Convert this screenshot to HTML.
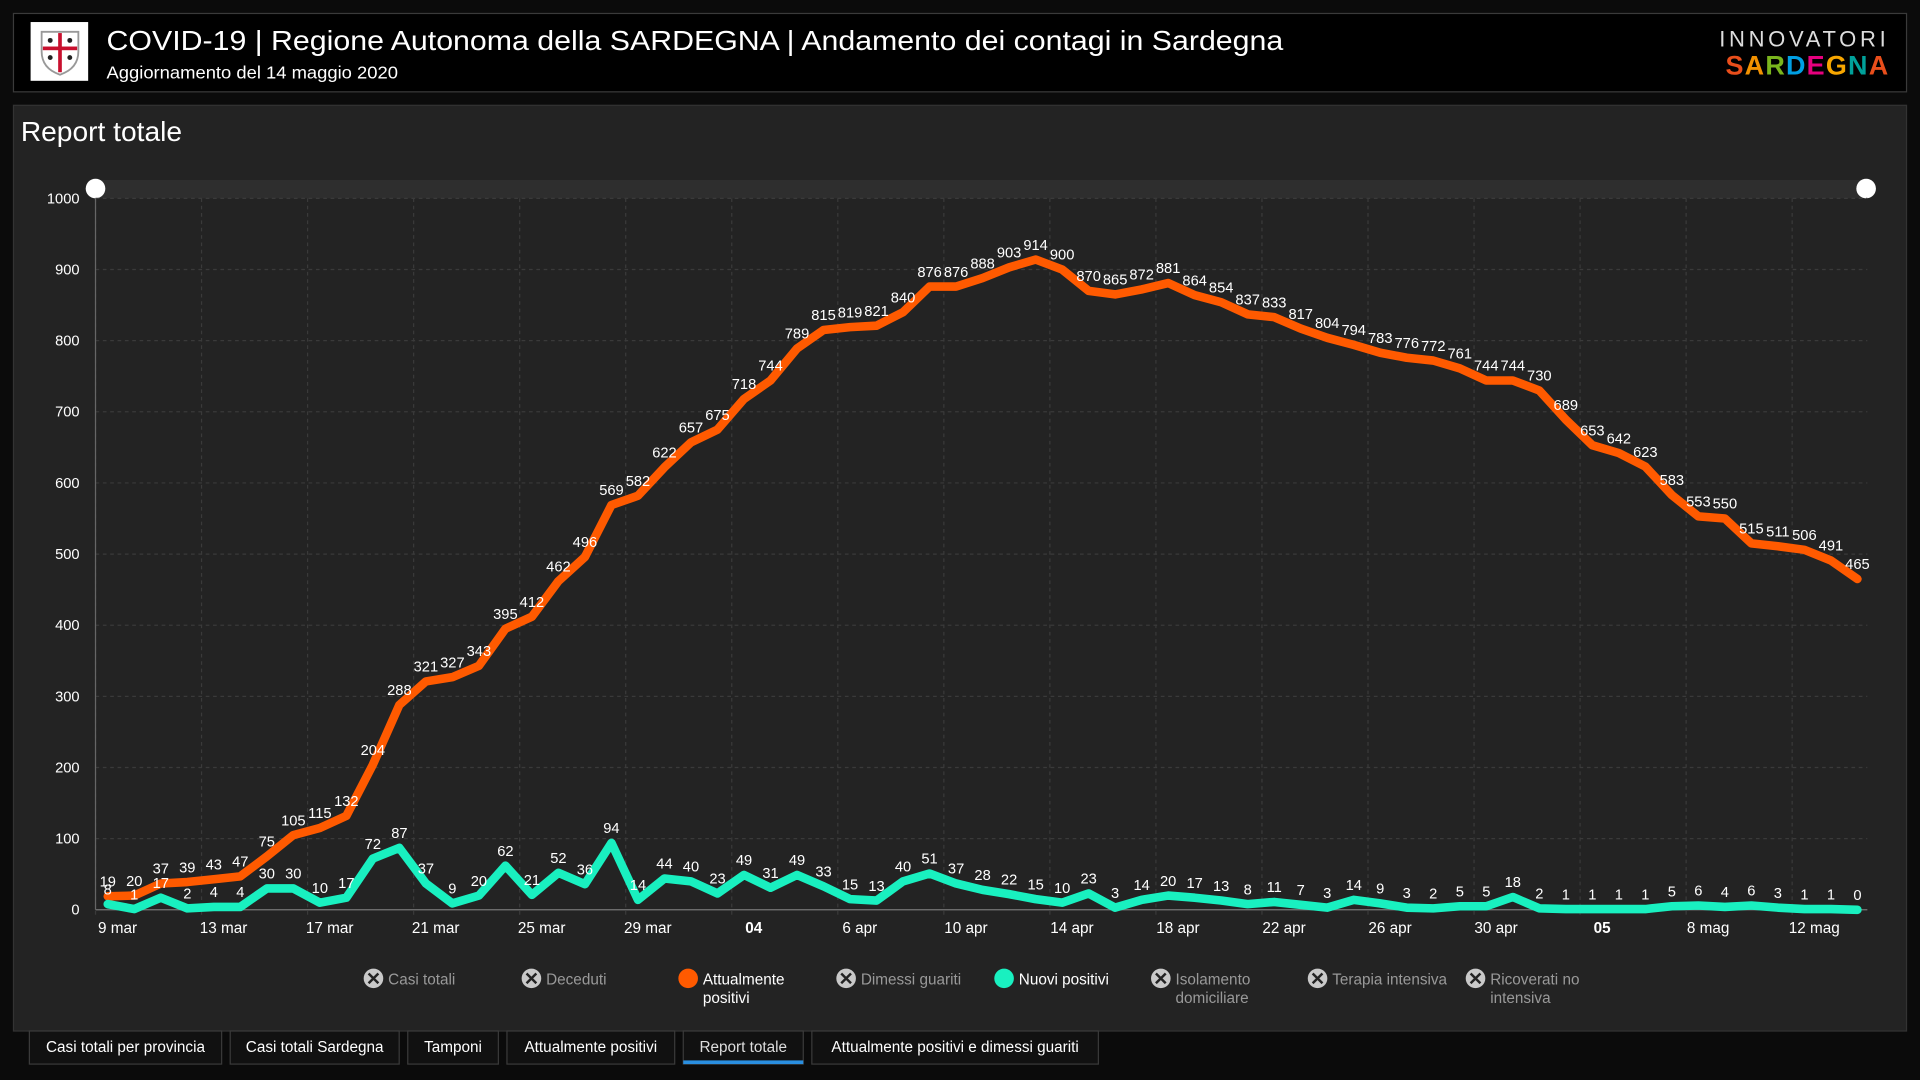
<!DOCTYPE html>
<html><head><meta charset="utf-8">
<style>
html,body{margin:0;padding:0;background:#0b0b0b;width:1920px;height:1080px;overflow:hidden}
svg{display:block;font-family:"Liberation Sans",sans-serif}
</style></head>
<body>
<svg id="root" width="1920" height="1080" viewBox="0 0 1568 882" xmlns="http://www.w3.org/2000/svg">
  <rect x="0" y="0" width="1568" height="882" fill="#0b0b0b"/>
  <g>
    <rect x="11" y="11" width="1546" height="64" fill="#000" stroke="#3a3a3a"/>
    <g>
      <rect x="25" y="18" width="47" height="48" fill="#fff"/>
      <path d="M34 26 h30 v16 q0 14 -15 19 q-15 -5 -15 -19z" fill="#fff" stroke="#999" stroke-width="1.5"/>
      <rect x="47.5" y="27" width="3" height="32" fill="#c8102e"/>
      <rect x="35" y="38" width="28" height="3" fill="#c8102e"/>
      <circle cx="41" cy="33" r="2" fill="#222"/><circle cx="57" cy="33" r="2" fill="#222"/>
      <circle cx="41" cy="47" r="2" fill="#222"/><circle cx="57" cy="47" r="2" fill="#222"/>
    </g>
    <text x="87" y="41" fill="#fff" font-size="23" textLength="961" lengthAdjust="spacingAndGlyphs">COVID-19 | Regione Autonoma della SARDEGNA | Andamento dei contagi in Sardegna</text>
    <text x="87" y="64" fill="#fff" font-size="14" textLength="238" lengthAdjust="spacingAndGlyphs">Aggiornamento del 14 maggio 2020</text>
    <text x="1543" y="38" fill="#ddd" font-size="18" text-anchor="end" letter-spacing="3">INNOVATORI</text>
    <text x="1543" y="61" font-size="22" font-weight="bold" text-anchor="end" letter-spacing="1"><tspan fill="#e94e1b">S</tspan><tspan fill="#f29100">A</tspan><tspan fill="#7ab51d">R</tspan><tspan fill="#009fe3">D</tspan><tspan fill="#e6007e">E</tspan><tspan fill="#f7a600">G</tspan><tspan fill="#00a19a">N</tspan><tspan fill="#e94e1b">A</tspan></text>
  </g>
  <g>
    <rect x="11" y="86" width="1546" height="756" fill="#232323" stroke="#333"/>
    <text x="17" y="115" fill="#fff" font-size="23">Report totale</text>
    <rect x="78" y="147" width="1447" height="15" fill="#2e2e2e"/>
    <circle cx="78" cy="154" r="8" fill="#fff"/>
    <circle cx="1524" cy="154" r="8" fill="#fff"/>
    <g id="grid"></g>
    <g id="axes"></g>
    <g id="series"></g>
    <g id="labels"></g>
  </g>
  <g id="legend"></g>
  <g id="tabs"></g>
</svg>
<script>
const days = 67;
const tickLabels = ["9 mar","13 mar","17 mar","21 mar","25 mar","29 mar","04","6 apr","10 apr","14 apr","18 apr","22 apr","26 apr","30 apr","05","8 mag","12 mag"];
const yTicks = [0,100,200,300,400,500,600,700,800,900,1000];
const attualmentePositivi = [19,20,37,39,43,47,75,105,115,132,204,288,321,327,343,395,412,462,496,569,582,622,657,675,718,744,789,815,819,821,840,876,876,888,903,914,900,870,865,872,881,864,854,837,833,817,804,794,783,776,772,761,744,744,730,689,653,642,623,583,553,550,515,511,506,491,465];
const nuoviPositivi = [8,1,17,2,4,4,30,30,10,17,72,87,37,9,20,62,21,52,36,94,14,44,40,23,49,31,49,33,15,13,40,51,37,28,22,15,10,23,3,14,20,17,13,8,11,7,3,14,9,3,2,5,5,18,2,1,1,1,1,5,6,4,6,3,1,1,0];

const NS="http://www.w3.org/2000/svg";
const X0=88, DX=21.65, Y0=743, Y1=162;
function xs(i){return X0+DX*i;}
function ys(v){return Y0-(Y0-Y1)*v/1000;}
function mk(tag,attrs,parent,txt){const e=document.createElementNS(NS,tag);for(const k in attrs)e.setAttribute(k,attrs[k]);if(txt!==undefined)e.textContent=txt;parent.appendChild(e);return e;}

const grid=document.getElementById('grid'), axes=document.getElementById('axes');
yTicks.forEach(v=>{
  const l=mk('line',{x1:78,x2:1525,y1:ys(v),y2:ys(v),stroke:v===0?'#777':'#3a3a3a','stroke-dasharray':v===0?'':'3,3'},grid);
  
  
  const t=mk('text',{x:65,y:ys(v)+4,fill:'#fff','font-size':12,'text-anchor':'end'},axes,String(v));
  
  
});
mk('line',{x1:78,x2:78,y1:162,y2:743,stroke:'#666'},axes);
tickLabels.forEach((lab,i)=>{
  const gx=xs(i*4)-10;
  const l=mk('line',{x1:gx,x2:gx,y1:162,y2:748,stroke:'#3a3a3a','stroke-dasharray':'3,3'},grid);
  
  
  const bold=(lab.length===2);
  const t=mk('text',{x:xs(i*4)+8,y:762,fill:'#fff','font-size':12.5,'text-anchor':'middle','font-weight':bold?'bold':'normal'},axes,lab);
  
  
});

const series=document.getElementById('series'), labels=document.getElementById('labels');
function drawSeries(data,color,name){
  const pts=data.map((v,i)=>xs(i)+','+ys(v)).join(' ');
  const p=mk('polyline',{points:pts,fill:'none',stroke:color,'stroke-width':7,'stroke-linejoin':'round','stroke-linecap':'round'},series);
  
  
  data.forEach((v,i)=>{
    const t=mk('text',{x:xs(i),y:ys(v)-8,fill:'#fff','font-size':12,'text-anchor':'middle'},labels,String(v));
    
    
  });
}
drawSeries(attualmentePositivi,'#ff5a00','attualmente-positivi');
drawSeries(nuoviPositivi,'#19f0c0','nuovi-positivi');

const legend=document.getElementById('legend');
const legendItems=[["Casi totali",305,null],["Deceduti",434,null],["Attualmente|positivi",562,'#ff5a00'],["Dimessi guariti",691,null],["Nuovi positivi",820,'#19f0c0'],["Isolamento|domiciliare",948,null],["Terapia intensiva",1076,null],["Ricoverati no|intensiva",1205,null]];
legendItems.forEach(it=>{
  const g=mk('g',{},legend);
  
  
  mk('circle',{cx:it[1],cy:799,r:8,fill:it[2]||'#c9c9c9'},g);
  if(!it[2]){mk('path',{d:`M${it[1]-4} 795 l8 8 M${it[1]+4} 795 l-8 8`,stroke:'#232323','stroke-width':2},g);}
  const lines=it[0].split('|');
  lines.forEach((s,j)=>mk('text',{x:it[1]+12,y:804+j*15,fill:it[2]?'#fff':'#999','font-size':12.5},g,s));
});

const tabs=document.getElementById('tabs');
const tabItems=[["Casi totali per provincia",24,157],["Casi totali Sardegna",188,138],["Tamponi",333,74],["Attualmente positivi",414,137],["Report totale",558,98],["Attualmente positivi e dimessi guariti",663,234]];
tabItems.forEach((t,i)=>{
  const g=mk('g',{},tabs);
  
  
  mk('rect',{x:t[1],y:842,width:t[2],height:27,fill:'#111',stroke:'#3a3a3a'},g);
  mk('text',{x:t[1]+t[2]/2,y:859,fill:i===4?'#ddd':'#fff','font-size':12.5,'text-anchor':'middle'},g,t[0]);
  if(i===4) mk('rect',{x:t[1],y:866,width:t[2],height:3,fill:'#2a8fe0'},g);
});
</script>
</body></html>
